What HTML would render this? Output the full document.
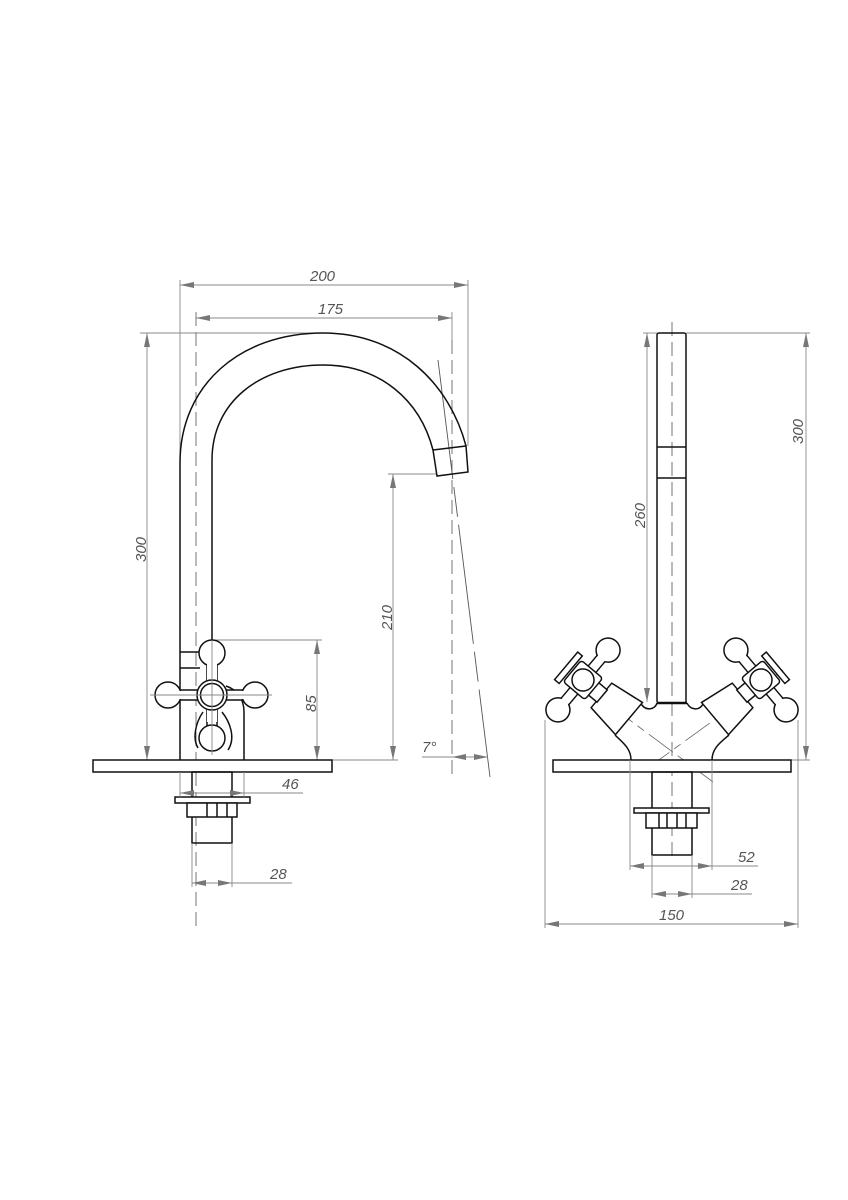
<!DOCTYPE html>
<html><head><meta charset="utf-8"><style>
html,body{margin:0;padding:0;background:#fff;}
svg{display:block}
text{font-family:"Liberation Sans",sans-serif;font-style:italic;font-size:15px;fill:#555;}
.o{fill:none;stroke:#111;stroke-width:1.5}
.of{fill:#fff;stroke:#111;stroke-width:1.5}
.d{fill:none;stroke:#888;stroke-width:0.9}
.c{fill:none;stroke:#666;stroke-width:0.9;stroke-dasharray:14 6}
</style></head><body>
<svg width="848" height="1200" viewBox="0 0 848 1200" xmlns="http://www.w3.org/2000/svg">
<defs>
<marker id="a" viewBox="0 0 14 6" refX="14" refY="3" markerWidth="14" markerHeight="6" markerUnits="userSpaceOnUse" orient="auto-start-reverse">
<path d="M0,0 L14,3 L0,6 Z" fill="#777"/></marker>
<g id="valve">
<path class="of" d="M24,-16 L60,-21 L60,21 L24,16 Z"/>
<rect class="of" x="13" y="-8" width="12" height="16"/>
<rect class="of" x="-5" y="-45" width="10" height="90"/>
<circle class="of" cx="0" cy="-39" r="12"/>
<circle class="of" cx="0" cy="39" r="12"/>
<rect x="-4.2" y="-30" width="8.4" height="60" fill="#fff"/>
<rect class="of" x="-14" y="-14" width="28" height="28" rx="3"/>
<rect class="of" x="-22" y="-18" width="6" height="36"/>
<circle class="of" cx="0" cy="0" r="11"/>
</g>
</defs>

<!-- ============ LEFT VIEW ============ -->
<line class="d" x1="180" y1="280" x2="180" y2="463"/>
<line class="d" x1="468" y1="280" x2="468" y2="446"/>
<line class="d" x1="180" y1="285" x2="468" y2="285" marker-start="url(#a)" marker-end="url(#a)"/>
<text x="310" y="281">200</text>
<line class="d" x1="196" y1="318" x2="452" y2="318" marker-start="url(#a)" marker-end="url(#a)"/>
<line class="d" x1="452" y1="312" x2="452" y2="340"/>
<text x="318" y="314">175</text>
<line class="c" x1="196" y1="312" x2="196" y2="932"/>
<line class="c" x1="452" y1="340" x2="452" y2="775"/>
<line x1="438" y1="360" x2="490" y2="777" stroke="#555" stroke-width="0.9" stroke-dasharray="120 8 30 8"/>

<line class="d" x1="140" y1="333" x2="323" y2="333"/>
<line class="d" x1="147" y1="333" x2="147" y2="760" marker-start="url(#a)" marker-end="url(#a)"/>
<text transform="translate(146,562) rotate(-90)">300</text>
<line class="d" x1="388" y1="474" x2="437" y2="474"/>
<line class="d" x1="393" y1="474" x2="393" y2="760" marker-start="url(#a)" marker-end="url(#a)"/>
<line class="d" x1="332" y1="760" x2="398" y2="760"/>
<text transform="translate(392,630) rotate(-90)">210</text>
<line class="d" x1="212" y1="640" x2="322" y2="640"/>
<line class="d" x1="317" y1="640" x2="317" y2="760" marker-start="url(#a)" marker-end="url(#a)"/>
<text transform="translate(316,712) rotate(-90)">85</text>
<line class="d" x1="422" y1="757" x2="452" y2="757"/>
<line class="d" x1="452" y1="757" x2="488" y2="757" marker-start="url(#a)" marker-end="url(#a)"/>
<text x="422" y="752">7°</text>

<path class="o" d="M180,760 L180,463 C180,385 240,333 323,333 C400,333 450,385 466,446"/>
<path class="o" d="M212,640 L212,460 C212,402 260,365 323,365 C380,365 420,400 433,450"/>
<path class="o" d="M433,450 L466,446 L468,472 L437,476 Z"/>
<line class="o" x1="180" y1="652" x2="200" y2="652"/>
<line class="o" x1="180" y1="668" x2="200" y2="668"/>
<path class="o" d="M226,686 C238,690 244,700 244,712 L244,760"/>
<path class="o" d="M203,712 C196,722 192,738 198,748 M222,712 C230,722 236,738 228,750"/>
<g class="of">
<rect x="207" y="660" width="10" height="70" stroke="#111"/>
<rect x="175" y="690" width="75" height="10" stroke="#111"/>
<circle cx="212" cy="653" r="13"/>
<circle cx="168" cy="695" r="13"/>
<circle cx="255" cy="695" r="13"/>
<circle cx="212" cy="738" r="13"/>
<rect x="207" y="662" width="10" height="60" stroke="none"/>
<rect x="178" y="691" width="70" height="8" stroke="none"/>
<circle cx="212" cy="695" r="15"/>
<circle cx="212" cy="695" r="11.5"/>
</g>
<line class="d" x1="212" y1="640" x2="212" y2="755"/>
<line class="d" x1="150" y1="695" x2="272" y2="695"/>
<rect class="of" x="93" y="760" width="239" height="12"/>
<rect class="o" x="192" y="772" width="40" height="71"/>
<rect class="of" x="175" y="797" width="75" height="6"/>
<rect class="of" x="187" y="803" width="50" height="14"/>
<line class="o" x1="207" y1="803" x2="207" y2="817"/>
<line class="o" x1="217" y1="803" x2="217" y2="817"/>
<line class="o" x1="227" y1="803" x2="227" y2="817"/>
<line class="d" x1="180" y1="772" x2="180" y2="797"/>
<line class="d" x1="244" y1="772" x2="244" y2="797"/>
<line class="d" x1="180" y1="793" x2="244" y2="793" marker-start="url(#a)" marker-end="url(#a)"/>
<line class="d" x1="244" y1="793" x2="303" y2="793"/>
<text x="282" y="789">46</text>
<line class="d" x1="192" y1="843" x2="192" y2="887"/>
<line class="d" x1="232" y1="843" x2="232" y2="887"/>
<line class="d" x1="192" y1="883" x2="232" y2="883" marker-start="url(#a)" marker-end="url(#a)"/>
<line class="d" x1="232" y1="883" x2="292" y2="883"/>
<text x="270" y="879">28</text>

<!-- ============ RIGHT VIEW ============ -->
<line class="c" x1="672" y1="322" x2="672" y2="860"/>
<line class="d" x1="686" y1="333" x2="810" y2="333"/>
<line class="d" x1="806" y1="333" x2="806" y2="760" marker-start="url(#a)" marker-end="url(#a)"/>
<line class="d" x1="791" y1="760" x2="810" y2="760"/>
<text transform="translate(803,444) rotate(-90)">300</text>
<line class="d" x1="643" y1="333" x2="657" y2="333"/>
<line class="d" x1="647" y1="333" x2="647" y2="702" marker-start="url(#a)" marker-end="url(#a)"/>
<text transform="translate(645,528) rotate(-90)">260</text>
<rect class="o" x="657" y="333" width="29" height="370" rx="2"/>
<line class="o" x1="657" y1="447" x2="686" y2="447"/>
<line class="o" x1="657" y1="478" x2="686" y2="478"/>
<line x1="657" y1="703" x2="687" y2="703" stroke="#111" stroke-width="2.5"/>
<path class="o" d="M631,760 C631,748 622,742 615,735 M712,760 C712,748 721,742 729,735 M640,702 C645,712 655,710 657,703 M687,703 C690,710 700,712 704,702"/>
<line x1="645" y1="770" x2="783" y2="670" stroke="#666" stroke-width="0.8" stroke-dasharray="30 6 8 6"/>
<line x1="713" y1="782" x2="580" y2="683" stroke="#666" stroke-width="0.8" stroke-dasharray="30 6 8 6"/>
<use href="#valve" transform="translate(583,680) rotate(40)"/>
<use href="#valve" transform="translate(1344,0) scale(-1,1) translate(583,680) rotate(40)"/>
<rect class="of" x="553" y="760" width="238" height="12"/>
<rect class="o" x="652" y="772" width="40" height="83"/>
<rect class="of" x="634" y="808" width="75" height="5"/>
<rect class="of" x="646" y="813" width="51" height="15"/>
<line class="o" x1="659" y1="813" x2="659" y2="828"/>
<line class="o" x1="667" y1="813" x2="667" y2="828"/>
<line class="o" x1="677" y1="813" x2="677" y2="828"/>
<line class="o" x1="686" y1="813" x2="686" y2="828"/>
<line class="d" x1="630" y1="760" x2="630" y2="870"/>
<line class="d" x1="712" y1="760" x2="712" y2="870"/>
<line class="d" x1="630" y1="866" x2="712" y2="866" marker-start="url(#a)" marker-end="url(#a)"/>
<line class="d" x1="712" y1="866" x2="758" y2="866"/>
<text x="738" y="862">52</text>
<line class="d" x1="652" y1="855" x2="652" y2="898"/>
<line class="d" x1="692" y1="855" x2="692" y2="898"/>
<line class="d" x1="652" y1="894" x2="692" y2="894" marker-start="url(#a)" marker-end="url(#a)"/>
<line class="d" x1="692" y1="894" x2="752" y2="894"/>
<text x="731" y="890">28</text>
<line class="d" x1="545" y1="720" x2="545" y2="928"/>
<line class="d" x1="798" y1="720" x2="798" y2="928"/>
<line class="d" x1="545" y1="924" x2="798" y2="924" marker-start="url(#a)" marker-end="url(#a)"/>
<text x="659" y="920">150</text>
</svg>
</body></html>
